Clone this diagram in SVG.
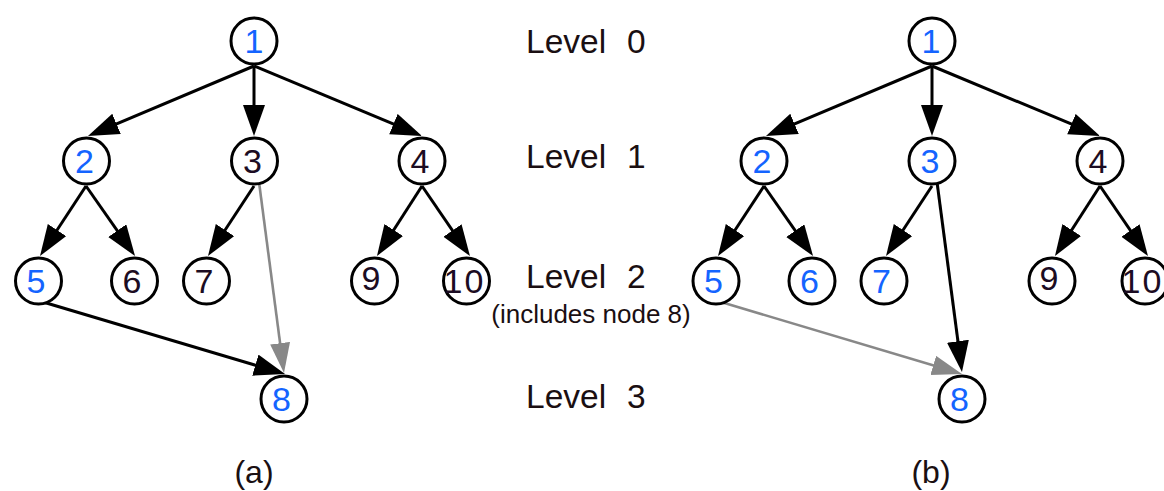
<svg xmlns="http://www.w3.org/2000/svg" width="1164" height="491" viewBox="0 0 1164 491">
  <style>
    .node circle { fill: #ffffff; stroke: #000000; stroke-width: 3; }
    .node text { font-family: "Liberation Sans", Arial, sans-serif; font-size: 34px; text-anchor: middle; }
    .blue text { fill: #1464ff; }
    .dark text { fill: #1c0c22; }
    .edge { stroke: #000000; stroke-width: 3; fill: none; marker-end: url(#head); }
    .edge.gray { stroke: #888888; stroke-width: 2.6; marker-end: url(#head-gray); }
    .label { font-family: "Liberation Sans", Arial, sans-serif; fill: #1a0f12; }
    .level { font-size: 33.5px; }
    .note { font-size: 26px; text-anchor: middle; }
    .caption { font-size: 32px; text-anchor: middle; }
  </style>
  <defs>
    <marker id="head" markerUnits="userSpaceOnUse" markerWidth="32" markerHeight="24" refX="25" refY="11" orient="auto">
      <path d="M0,0 L31,11 L0,22 Z" fill="#000000"/>
    </marker>
    <marker id="head-gray" markerUnits="userSpaceOnUse" markerWidth="32" markerHeight="22" refX="25" refY="10" orient="auto">
      <path d="M0,0 L30,10 L0,20 Z" fill="#888888"/>
    </marker>
  </defs>

  <!-- connectors -->
  <g id="connectors">
    <!-- tree (a) -->
    <line class="edge" x1="254" y1="66" x2="93.5" y2="133.7"/>
    <line class="edge" x1="254" y1="66" x2="254" y2="130"/>
    <line class="edge" x1="254" y1="66" x2="416.5" y2="133.7"/>
    <line class="edge" x1="86" y1="186" x2="43.3" y2="251"/>
    <line class="edge" x1="86" y1="186" x2="131.6" y2="251.1"/>
    <line class="edge" x1="254" y1="186" x2="211.3" y2="251"/>
    <line class="edge" x1="422" y1="186" x2="380.2" y2="251"/>
    <line class="edge" x1="422" y1="186" x2="466.6" y2="251.1"/>
    <line class="edge gray" x1="259" y1="182" x2="283.35" y2="368"/>
    <line class="edge" x1="43" y1="302" x2="279.3" y2="372.3"/>
    <!-- tree (b) -->
    <line class="edge" x1="932" y1="66" x2="771.5" y2="133.7"/>
    <line class="edge" x1="932" y1="66" x2="932" y2="130"/>
    <line class="edge" x1="932" y1="66" x2="1094.5" y2="133.7"/>
    <line class="edge" x1="764" y1="186" x2="721.3" y2="251"/>
    <line class="edge" x1="764" y1="186" x2="809.6" y2="251.1"/>
    <line class="edge" x1="932" y1="186" x2="889.3" y2="251"/>
    <line class="edge" x1="1100" y1="186" x2="1058.2" y2="251"/>
    <line class="edge" x1="1100" y1="186" x2="1144.6" y2="251.1"/>
    <line class="edge" x1="937" y1="182" x2="961.2" y2="366"/>
    <line class="edge gray" x1="721" y1="302" x2="957.2" y2="372.6"/>
  </g>

  <!-- tree (a) nodes -->
  <g id="a-node-1" class="node blue"><circle cx="254" cy="41" r="23"/><text x="254" y="53">1</text></g>
  <g id="a-node-2" class="node blue"><circle cx="86.5" cy="161" r="23"/><text x="84.5" y="173">2</text></g>
  <g id="a-node-3" class="node dark"><circle cx="254.5" cy="161" r="23"/><text x="252.5" y="173">3</text></g>
  <g id="a-node-4" class="node dark"><circle cx="422" cy="161" r="23"/><text x="420" y="173">4</text></g>
  <g id="a-node-5" class="node blue"><circle cx="38.5" cy="281" r="23"/><text x="36" y="293">5</text></g>
  <g id="a-node-6" class="node dark"><circle cx="134.5" cy="281" r="23"/><text x="132" y="293">6</text></g>
  <g id="a-node-7" class="node dark"><circle cx="206.5" cy="281" r="23"/><text x="204" y="293">7</text></g>
  <g id="a-node-9" class="node dark"><circle cx="374.5" cy="281" r="23"/><text x="371" y="290">9</text></g>
  <g id="a-node-10" class="node dark"><circle cx="466.5" cy="281" r="23"/><text x="464.5" y="293" letter-spacing="2">10</text></g>
  <g id="a-node-8" class="node blue"><circle cx="284" cy="399" r="23"/><text x="281.5" y="411">8</text></g>

  <!-- tree (b) nodes -->
  <g id="b-node-1" class="node blue"><circle cx="932" cy="41" r="23"/><text x="931" y="53">1</text></g>
  <g id="b-node-2" class="node blue"><circle cx="764" cy="161" r="23"/><text x="762" y="173">2</text></g>
  <g id="b-node-3" class="node blue"><circle cx="932" cy="161" r="23"/><text x="930" y="173">3</text></g>
  <g id="b-node-4" class="node dark"><circle cx="1100" cy="161" r="23"/><text x="1098" y="173">4</text></g>
  <g id="b-node-5" class="node blue"><circle cx="716" cy="281" r="23"/><text x="713.5" y="293">5</text></g>
  <g id="b-node-6" class="node blue"><circle cx="812" cy="281" r="23"/><text x="809.5" y="293">6</text></g>
  <g id="b-node-7" class="node blue"><circle cx="884" cy="281" r="23"/><text x="881.5" y="293">7</text></g>
  <g id="b-node-9" class="node dark"><circle cx="1052" cy="281" r="23"/><text x="1049" y="290">9</text></g>
  <g id="b-node-10" class="node dark"><circle cx="1145" cy="281" r="23"/><text x="1142.5" y="293" letter-spacing="2">10</text></g>
  <g id="b-node-8" class="node blue"><circle cx="962" cy="399" r="23"/><text x="959.5" y="411">8</text></g>

  <!-- level labels -->
  <g id="levels" class="label">
    <text class="level" x="526" y="53">Level<tspan x="627">0</tspan></text>
    <text class="level" x="526" y="168">Level<tspan x="627">1</tspan></text>
    <text class="level" x="526" y="288">Level<tspan x="627">2</tspan></text>
    <text class="note" x="591" y="323">(includes node 8)</text>
    <text class="level" x="526" y="408">Level<tspan x="627">3</tspan></text>
  </g>

  <!-- captions -->
  <g id="captions" class="label">
    <text class="caption" x="254" y="483">(a)</text>
    <text class="caption" x="931" y="483">(b)</text>
  </g>
</svg>
